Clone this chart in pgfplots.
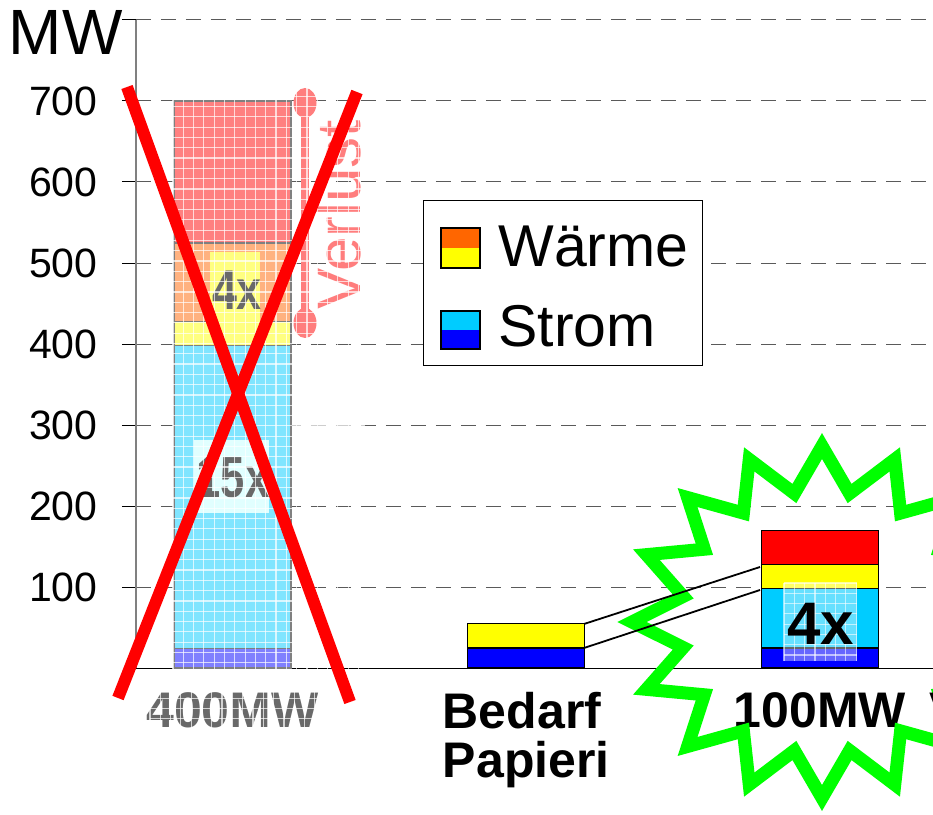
\documentclass[border=0pt]{standalone}
\usepackage{pgfplots}
\usepackage{pgfplotstable}
\pgfplotsset{compat=1.18}
\usepackage{fontspec}
\setmainfont{Liberation Sans}
\definecolor{cBlue}{RGB}{0,0,255}
\definecolor{cLBlue}{RGB}{0,204,255}
\definecolor{cYellow}{RGB}{255,255,0}
\definecolor{cOrange}{RGB}{255,102,0}
\definecolor{cRed}{RGB}{255,0,0}
\definecolor{cGreen}{RGB}{0,255,0}
\definecolor{fRed}{RGB}{255,125,125}
\definecolor{fYellow}{RGB}{255,255,128}
\definecolor{fCyan}{RGB}{225,255,255}
\definecolor{fGray}{RGB}{105,105,105}
\definecolor{gridGray}{RGB}{90,90,90}
\definecolor{axGray}{RGB}{128,128,128}

\pgfplotstableread{
x strA strB wA wB loss
0 24 374 30 97 175
1 25 0 30 0 0
2 25 73 30 0 42
}\data

\begin{document}
\begin{tikzpicture}
\path[use as bounding box] (-68pt,-73.5pt) rectangle (398.5pt,334pt);
\clip (-68pt,-73.5pt) rectangle (398.5pt,334pt);
\begin{axis}[
  at={(0,0)}, anchor=south west,
  scale only axis, width=398.5pt, height=324pt,
  xmin=-0.3285, xmax=2.3847, ymin=0, ymax=800,
  axis x line*=bottom, axis y line*=left,
  x axis line style={black, line width=0.5pt, -},
  y axis line style={axGray, line width=1pt, -},
  ytick={100,200,...,800},
  yticklabels={100,200,300,400,500,600,700,{}},
  ymajorgrids,
  major grid style={gridGray, line width=0.5pt, dash pattern=on 7.5pt off 5pt},
  tick align=outside, major tick length=7pt,
  ytick style={black, line width=0.5pt},
  /pgf/number format/assume math mode=true,
  yticklabel style={font=\fontsize{20.5}{20.5}\selectfont, anchor=east, inner sep=0pt, xshift=-12pt},
  xtick={0,1,2},
  xticklabels={{\color{fGray}400MW}, {Bedarf\\Papieri}, 100MW},
  xtick style={draw=none},
  xticklabel style={font=\fontsize{25}{24.5}\selectfont\bfseries, anchor=north, inner sep=0pt, align=left, yshift=-5pt},
  ybar stacked, bar width=58.5pt,
  every axis plot/.append style={draw=black, line width=0.75pt},
]
\addplot[fill=cBlue] table[x=x,y=strA]{\data};
\addplot[fill=cLBlue] table[x=x,y=strB]{\data};
\addplot[fill=cYellow] table[x=x,y=wA]{\data};
\addplot[fill=cOrange] table[x=x,y=wB]{\data};
\addplot[fill=cRed] table[x=x,y=loss]{\data};
\end{axis}

\begin{scope}[x=0.5pt, y=-0.5pt, shift={(-68pt,334pt)}]
% fade of the crossed-out bar
\fill[white, opacity=0.5] (173,100) rectangle (292,669);
\fill[fYellow] (210,252) rectangle (260,322);
\node[fGray, font=\fontsize{28}{28}\selectfont\bfseries, inner sep=0pt, anchor=base, xscale=0.8] at (237,310) {4x};
\fill[fCyan] (194,440) rectangle (269,513);
\node[fGray, font=\fontsize{29}{29}\selectfont\bfseries, inner sep=0pt, anchor=base, xscale=0.75] at (233,498) {15x};
% Verlust bracket
\draw[fRed, line width=4pt] (305,103) -- (305,323);
\fill[fRed] (305,103) ellipse [x radius=11.5, y radius=15];
\fill[fRed] (305,323) ellipse [x radius=11.5, y radius=15];
\node[fRed, rotate=90, anchor=base west, inner sep=0pt, font=\fontsize{31}{31}\selectfont] at (360,310) {Verlust};
% white grid texture
\foreach \i in {0,...,18} {
  \draw[white, line width=0.6pt, opacity=0.7] ({173+\i*10.3},86) -- ({173+\i*10.3},669);
}
\foreach \j in {0,...,56} {
  \draw[white, line width=0.6pt, opacity=0.7] (173,{86+\j*10.3}) -- (365,{86+\j*10.3});
}
\foreach \i in {0,...,17} {
  \draw[white, line width=0.6pt, opacity=0.7] ({150+\i*10.3},686) -- ({150+\i*10.3},734);
}
\foreach \j in {0,...,4} {
  \draw[white, line width=0.6pt, opacity=0.7] (150,{688+\j*10.3}) -- (330,{688+\j*10.3});
}
% right 4x box
\fill[white, opacity=0.4] (784,583) rectangle (857,661);
\foreach \i in {0,...,7} {
  \draw[white, line width=0.6pt, opacity=0.6] ({784+\i*10.3},583) -- ({784+\i*10.3},661);
}
\foreach \j in {0,...,7} {
  \draw[white, line width=0.6pt, opacity=0.6] (784,{583+\j*10.3}) -- (857,{583+\j*10.3});
}
\node[black, font=\fontsize{30}{30}\selectfont\bfseries, inner sep=0pt, anchor=base] at (820.5,645) {4x};
% legend
\draw[black, line width=0.5pt, fill=white] (423,201) rectangle (702,366);
\fill[cOrange] (441,228) rectangle (480,248);
\fill[cYellow] (441,248) rectangle (480,268);
\draw[black, line width=0.75pt] (441,228) rectangle (480,268);
\fill[cLBlue] (441,311) rectangle (480,330);
\fill[cBlue] (441,330) rectangle (480,349);
\draw[black, line width=0.75pt] (441,311) rectangle (480,349);
\node[anchor=base west, inner sep=0pt, font=\fontsize{29.5}{29.5}\selectfont] at (498,267) {Wärme};
\node[anchor=base west, inner sep=0pt, font=\fontsize{29.5}{29.5}\selectfont] at (498,347) {Strom};
% green star
\draw[cGreen, line width=6.5pt, miter limit=10, shift={(822,622)}, xscale=1.08]
  (90:176) \foreach \k in {1,...,15} { -- ({90+\k*22.5-11.25}:131) -- ({90+\k*22.5}:176) } -- (78.75:131) -- cycle;
% connecting lines
\draw[black, line width=0.9pt] (584,624) -- (760,567);
\draw[black, line width=0.9pt] (584,648) -- (760,590);
% red cross
\draw[cRed, line width=6pt] (127,87) -- (350,702);
\draw[cRed, line width=6pt] (357,92) -- (118,698);
% unit label
\node[anchor=base east, inner sep=0pt, font=\fontsize{32}{32}\selectfont] at (123,55) {MW};
\node[anchor=base west, inner sep=0pt, font=\fontsize{25}{25}\selectfont\bfseries] at (929,728) {V};
\end{scope}
\end{tikzpicture}
\end{document}
